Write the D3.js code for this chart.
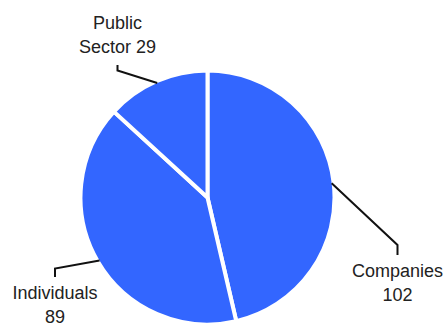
<!DOCTYPE html>
<html>
<head>
<meta charset="utf-8">
<script src="https://cdn.jsdelivr.net/npm/d3@7"></script>
<style>
    html, body { margin: 0; padding: 0; background: #fff; }
    .label { font-family: 'Liberation Sans', Arial, sans-serif; font-size: 18px; fill: #222; }
    .leader { fill: none; stroke: #111; stroke-width: 2; }
</style>
</head>
<body>
<script>
const categories = ['Companies', 'Individuals', 'Public Sector'];
const values = [102, 89, 29];
const labelLines = [['Companies', '102'], ['Individuals', '89'], ['Public', 'Sector 29']];

// label placement: x centre, elbow y, tick end y, first baseline
const labelLayout = [
    { x: 397.5, elbow: 245, tick: 255, base: 277 },
    { x: 55, elbow: 268.5, tick: 277, base: 299 },
    { x: 117.5, elbow: 70.5, tick: 65, base: 29 }
];

const W = 445, H = 323,
    cx = 207.5, cy = 197.5,
    R = 127;

const data = categories.map((c, i) => {
    return { name: c, value: values[i], lines: labelLines[i], pos: labelLayout[i] };
});

const pie = d3.pie().sort(null).value(d => { return d.value; });
const arc = d3.arc().innerRadius(0).outerRadius(R);
const arcs = pie(data);

const svg = d3.select('body').append('svg')
    .attr('width', W)
    .attr('height', H);

const g = svg.append('g')
    .attr('transform', 'translate(' + cx + ',' + cy + ')');

// slices
g.selectAll('.slice')
    .data(arcs)
    .enter()
    .append('path')
    .attr('class', 'slice')
    .attr('d', arc)
    .style('fill', '#3366ff')
    .style('stroke', '#fff')
    .style('stroke-width', 4);

// leader lines from the edge at mid-angle to the label
const edgeR = R - 2;
g.selectAll('.leader')
    .data(arcs)
    .enter()
    .append('path')
    .attr('class', 'leader')
    .attr('d', d => {
        const a = (d.startAngle + d.endAngle) / 2;
        const x0 = edgeR * Math.sin(a), y0 = -edgeR * Math.cos(a);
        const p = d.data.pos;
        return 'M' + x0 + ',' + y0 +
            'L' + (p.x - cx) + ',' + (p.elbow - cy) +
            'L' + (p.x - cx) + ',' + (p.tick - cy);
    });

// labels
const labels = svg.selectAll('.label')
    .data(data)
    .enter()
    .append('text')
    .attr('class', 'label')
    .attr('text-anchor', 'middle')
    .attr('x', d => { return d.pos.x; })
    .attr('y', d => { return d.pos.base; });
labels.selectAll('tspan')
    .data(d => { return d.lines.map(t => { return { t: t, x: d.pos.x }; }); })
    .enter()
    .append('tspan')
    .attr('x', d => { return d.x; })
    .attr('dy', (d, i) => { return i === 0 ? 0 : 23.5; })
    .text(d => { return d.t; });
</script>
</body>
</html>
